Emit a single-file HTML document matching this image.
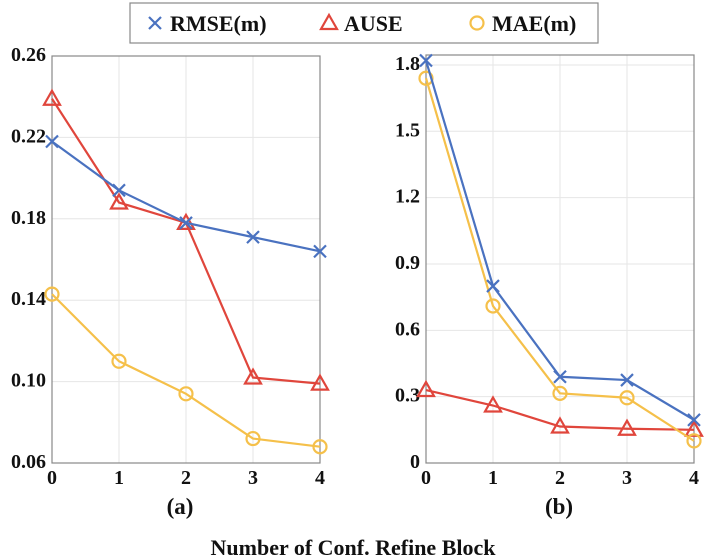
<!DOCTYPE html>
<html><head><meta charset="utf-8"><style>
body{margin:0;background:#fff;}
svg{display:block;font-family:"Liberation Serif",serif;font-weight:bold;}
</style></head><body>
<svg id="c" width="706" height="558" viewBox="0 0 706 558"></svg>
<script>
const cats=[0,1,2,3,4];
const aRMSE=[0.218,0.194,0.178,0.171,0.164];
const aAUSE=[0.239,0.188,0.178,0.102,0.099];
const aMAE=[0.143,0.110,0.094,0.072,0.068];
const bRMSE=[1.82,0.80,0.39,0.375,0.195];
const bAUSE=[0.33,0.26,0.165,0.155,0.15];
const bMAE=[1.74,0.71,0.315,0.295,0.10];
const aTicks=[0.06,0.10,0.14,0.18,0.22,0.26];
const aTickLabels=["0.06","0.10","0.14","0.18","0.22","0.26"];
const bTicks=[0,0.3,0.6,0.9,1.2,1.5,1.8];
const bTickLabels=["0","0.3","0.6","0.9","1.2","1.5","1.8"];
const NS="http://www.w3.org/2000/svg";
const svg=document.getElementById('c');
const C={rmse:"#4a72c0",ause:"#e0463c",mae:"#f5c04a"};
function mk(t,a,p){const e=document.createElementNS(NS,t);for(const k in a)e.setAttribute(k,a[k]);(p||svg).appendChild(e);return e;}
function panel(name,x0,x1,yt,yb,ymin,ymax,ticks,labels,series){
  const g=mk('g',{});
  
  
  const sx=v=>x0+(v-cats[0])/(cats[cats.length-1]-cats[0])*(x1-x0);
  const sy=v=>yb-(v-ymin)/(ymax-ymin)*(yb-yt);
  cats.forEach(c=>{const l=mk('line',{x1:sx(c),x2:sx(c),y1:yt,y2:yb,stroke:"#e6e6e6","stroke-width":1},g);
    
    const t=mk('text',{x:sx(c),y:yb+21,"text-anchor":"middle","font-size":20,fill:"#111"},g);t.textContent=c;
    });
  ticks.forEach((v,i)=>{const l=mk('line',{x1:x0,x2:x1,y1:sy(v),y2:sy(v),stroke:"#e6e6e6","stroke-width":1},g);
    
    const t=mk('text',{x:x0-6,y:sy(v)+5,"text-anchor":"end","font-size":20,fill:"#111"},g);t.textContent=labels[i];
    });
  const fr=mk('rect',{x:x0,y:yt,width:x1-x0,height:yb-yt,fill:"none",stroke:"#888","stroke-width":1.2},g);
  
  series.forEach(s=>{
    const pl=mk('polyline',{points:s.v.map((v,i)=>sx(cats[i])+","+sy(v)).join(" "),fill:"none",stroke:s.c,"stroke-width":2.2},g);
    
    s.v.forEach((v,i)=>{const m=marker(s.m,sx(cats[i]),sy(v),s.c,g);
      });
  });
}
function marker(type,x,y,c,g){
  if(type==='x')return mk('path',{d:`M${x-6},${y-6}L${x+6},${y+6}M${x-6},${y+6}L${x+6},${y-6}`,stroke:c,"stroke-width":2.2,fill:"none"},g);
  if(type==='t')return mk('path',{d:`M${x},${y-8}L${x+8},${y+6}L${x-8},${y+6}Z`,stroke:c,"stroke-width":2.2,fill:"none"},g);
  return mk('circle',{cx:x,cy:y,r:6.5,stroke:c,"stroke-width":2.2,fill:"none"},g);
}
panel('panel-a',52,320,56,463,0.06,0.26,aTicks,aTickLabels,[
 {n:'ause',v:aAUSE,c:C.ause,m:'t'},{n:'rmse',v:aRMSE,c:C.rmse,m:'x'},{n:'mae',v:aMAE,c:C.mae,m:'o'}]);
panel('panel-b',426,694,55,463,0,1.845,bTicks,bTickLabels,[
 {n:'ause',v:bAUSE,c:C.ause,m:'t'},{n:'mae',v:bMAE,c:C.mae,m:'o'},{n:'rmse',v:bRMSE,c:C.rmse,m:'x'}]);
const lg=mk('g',{});


mk('rect',{x:130,y:3,width:468,height:40,fill:"#fff",stroke:"#888","stroke-width":1.2},lg);
[[150,'x',C.rmse,'RMSE(m)','legend-rmse'],[324,'t',C.ause,'AUSE','legend-ause'],[472,'o',C.mae,'MAE(m)','legend-mae']].forEach(e=>{
  const g=mk('g',{},lg);
  
  
  marker(e[1],e[0]+5,23,e[2],g);
  const t=mk('text',{x:e[0]+20,y:31,"font-size":22,fill:"#111"},g);t.textContent=e[3];
});
const ta=mk('text',{x:180,y:514,"text-anchor":"middle","font-size":23,fill:"#111"});ta.textContent="(a)";

const tb=mk('text',{x:559,y:514,"text-anchor":"middle","font-size":23,fill:"#111"});tb.textContent="(b)";

const xt=mk('text',{x:353,y:555,"text-anchor":"middle","font-size":22,fill:"#111"});xt.textContent="Number of Conf. Refine Block";

</script>
</body></html>
